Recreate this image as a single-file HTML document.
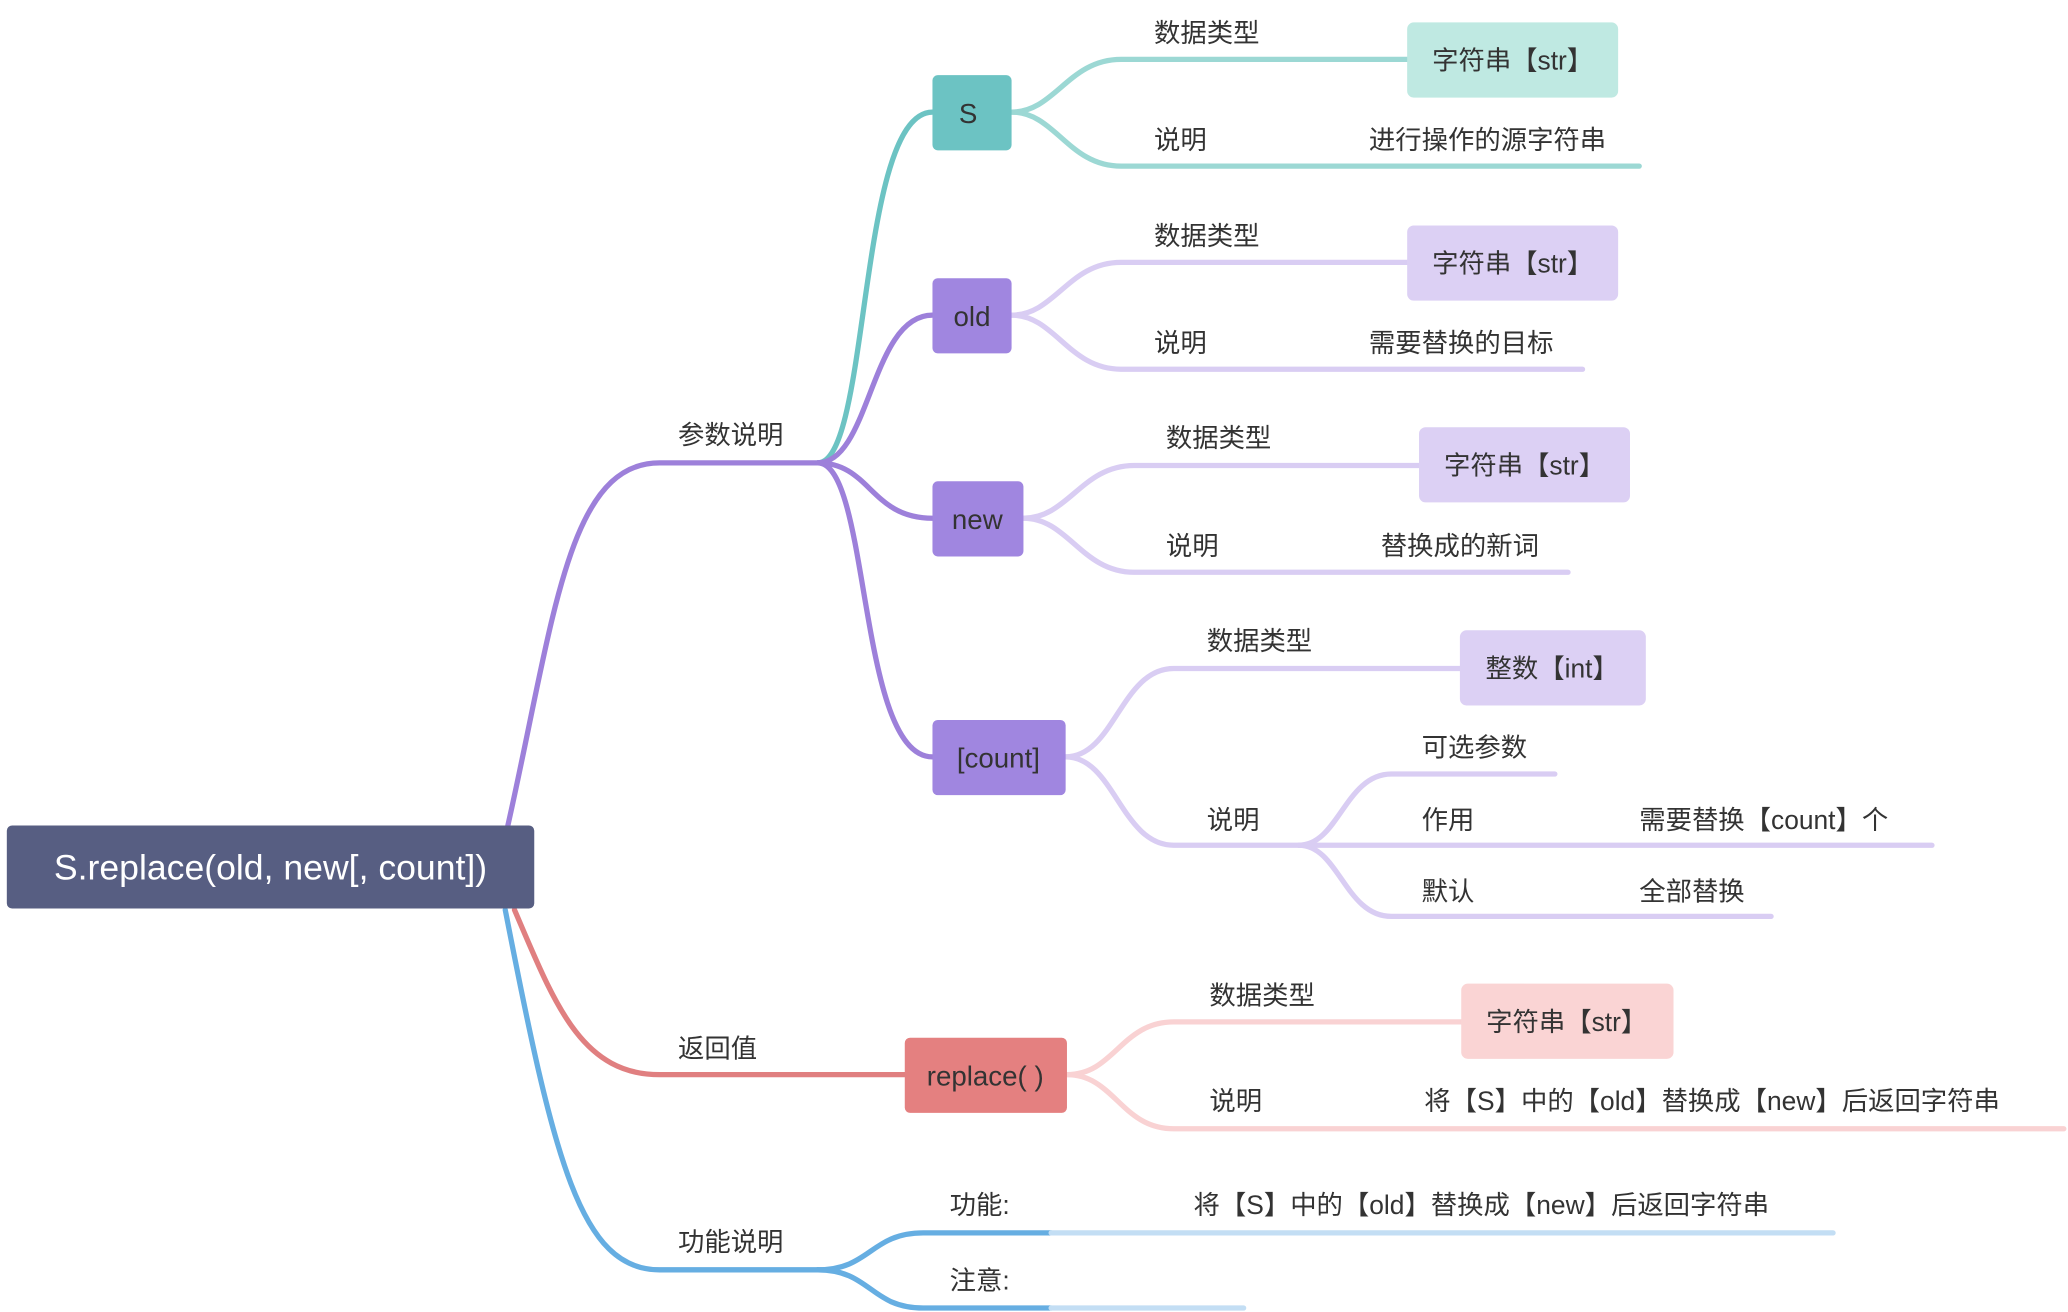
<!DOCTYPE html>
<html><head><meta charset="utf-8">
<style>
html,body{margin:0;padding:0;background:#fff;}
svg{display:block;}
text{font-family:"Liberation Sans","Noto Sans CJK SC",sans-serif;fill:#333;font-size:20px;dominant-baseline:central;}
</style></head>
<body>
<svg width="2068" height="1312" viewBox="0 0 1568 995" xmlns="http://www.w3.org/2000/svg">
<g fill="none" stroke-linecap="round">
<!-- root branches -->
<path d="M385 626 C420 470 430 351 500 351 L620 351" stroke="#9d80da" stroke-width="4"/>
<path d="M390 690 C420 760 440 815 500 815 L686 815" stroke="#e07f80" stroke-width="4"/>
<path d="M383 690 C420 880 440 963 500 963 L620 963" stroke="#66aee2" stroke-width="4"/>
<!-- param to nodes -->
<path d="M620 351 C660 351 650 85 707 85" stroke="#6cc3c3" stroke-width="4"/>
<path d="M620 351 C660 351 660 239 707 239" stroke="#9d80da" stroke-width="4"/>
<path d="M620 351 C660 351 660 393 707 393" stroke="#9d80da" stroke-width="4"/>
<path d="M620 351 C660 351 650 574 707 574" stroke="#9d80da" stroke-width="4"/>
<!-- S children -->
<path d="M767 85 C800 85 810 45 850 45 L1068 45" stroke="#9cd8d4" stroke-width="4"/>
<path d="M767 85 C800 85 810 126 850 126 L1243 126" stroke="#9cd8d4" stroke-width="4"/>
<!-- old children -->
<path d="M767 239 C800 239 810 199 850 199 L1068 199" stroke="#d9cdf3" stroke-width="4"/>
<path d="M767 239 C800 239 810 280 850 280 L1200 280" stroke="#d9cdf3" stroke-width="4"/>
<!-- new children -->
<path d="M776 393 C810 393 820 353 860 353 L1076 353" stroke="#d9cdf3" stroke-width="4"/>
<path d="M776 393 C810 393 820 434 860 434 L1189 434" stroke="#d9cdf3" stroke-width="4"/>
<!-- count children -->
<path d="M808 574 C845 574 850 507 890 507 L1107 507" stroke="#d9cdf3" stroke-width="4"/>
<path d="M808 574 C845 574 850 641 890 641 L985 641" stroke="#d9cdf3" stroke-width="4"/>
<path d="M985 641 C1015 641 1020 587 1055 587 L1179 587" stroke="#d9cdf3" stroke-width="4"/>
<path d="M985 641 L1465 641" stroke="#d9cdf3" stroke-width="4"/>
<path d="M985 641 C1015 641 1020 695 1055 695 L1343 695" stroke="#d9cdf3" stroke-width="4"/>
<!-- replace children -->
<path d="M809 815 C845 815 850 775 890 775 L1108 775" stroke="#f9d2d3" stroke-width="4"/>
<path d="M809 815 C845 815 850 856 890 856 L1565 856" stroke="#f9d2d3" stroke-width="4"/>
<!-- function children -->
<path d="M620 963 C660 963 660 935 700 935 L797 935" stroke="#66aee2" stroke-width="4"/>
<path d="M797 935 L1390 935" stroke="#c3def4" stroke-width="4"/>
<path d="M620 963 C660 963 660 992 700 992 L797 992" stroke="#66aee2" stroke-width="4"/>
<path d="M797 992 L943 992" stroke="#c3def4" stroke-width="4"/>
</g>
<!-- nodes -->
<rect x="5" y="626" width="400" height="63" rx="4" fill="#575e82"/>
<text x="205" y="658" text-anchor="middle" style="fill:#fff;font-size:27px">S.replace(old, new[, count])</text>

<rect x="707" y="57" width="60" height="57" rx="4" fill="#6cc3c3"/>
<text x="727" y="86" style="font-size:21px">S</text>
<rect x="707" y="211" width="60" height="57" rx="4" fill="#a086e0"/>
<text x="737" y="240" text-anchor="middle" style="font-size:21px">old</text>
<rect x="707" y="365" width="69" height="57" rx="4" fill="#a086e0"/>
<text x="741" y="394" text-anchor="middle" style="font-size:21px">new</text>
<rect x="707" y="546" width="101" height="57" rx="4" fill="#a086e0"/>
<text x="757" y="575" text-anchor="middle" style="font-size:21px">[count]</text>
<rect x="686" y="787" width="123" height="57" rx="4" fill="#e48080"/>
<text x="747" y="816" text-anchor="middle" style="font-size:21px">replace( )</text>

<rect x="1067" y="17" width="160" height="57" rx="5" fill="#bfe9e2"/>
<text x="1147" y="46" text-anchor="middle">字符串【str】</text>
<rect x="1067" y="171" width="160" height="57" rx="5" fill="#dcd0f4"/>
<text x="1147" y="200" text-anchor="middle">字符串【str】</text>
<rect x="1076" y="324" width="160" height="57" rx="5" fill="#dcd0f4"/>
<text x="1156" y="353" text-anchor="middle">字符串【str】</text>
<rect x="1107" y="478" width="141" height="57" rx="5" fill="#dcd0f4"/>
<text x="1177" y="507" text-anchor="middle">整数【int】</text>
<rect x="1108" y="746" width="161" height="57" rx="5" fill="#fad4d4"/>
<text x="1188" y="775" text-anchor="middle">字符串【str】</text>

<!-- labels -->
<text x="514" y="330">参数说明</text>
<text x="514" y="795">返回值</text>
<text x="514" y="942">功能说明</text>

<text x="875" y="25">数据类型</text>
<text x="875" y="106">说明</text>
<text x="1038" y="106">进行操作的源字符串</text>
<text x="875" y="179">数据类型</text>
<text x="875" y="260">说明</text>
<text x="1038" y="260">需要替换的目标</text>
<text x="884" y="332">数据类型</text>
<text x="884" y="414">说明</text>
<text x="1047" y="414">替换成的新词</text>
<text x="915" y="486">数据类型</text>
<text x="915" y="622">说明</text>
<text x="1078" y="567">可选参数</text>
<text x="1078" y="622">作用</text>
<text x="1243" y="622">需要替换【count】个</text>
<text x="1078" y="676">默认</text>
<text x="1243" y="676">全部替换</text>
<text x="917" y="755">数据类型</text>
<text x="917" y="835">说明</text>
<text x="1080" y="835">将【S】中的【old】替换成【new】后返回字符串</text>
<text x="720" y="914">功能:</text>
<text x="905" y="914">将【S】中的【old】替换成【new】后返回字符串</text>
<text x="720" y="971">注意:</text>
</svg>
</body></html>
